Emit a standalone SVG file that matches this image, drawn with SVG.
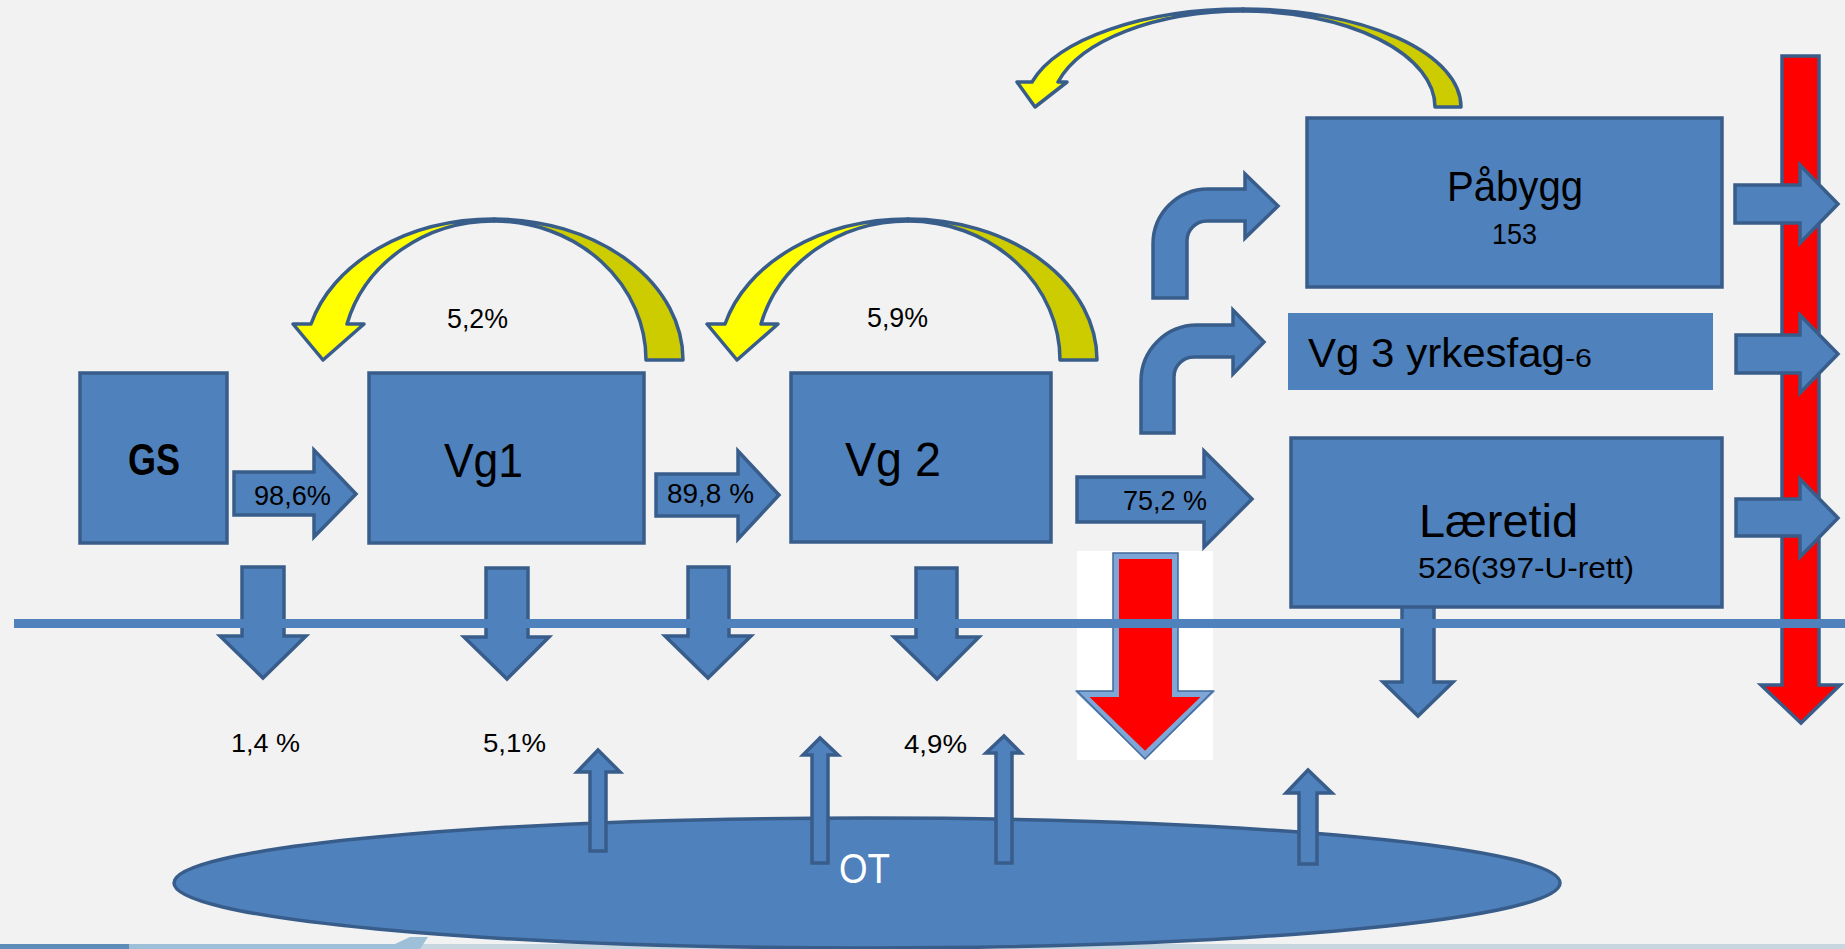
<svg xmlns="http://www.w3.org/2000/svg" width="1845" height="949" viewBox="0 0 1845 949">
<style>
.bx{fill:#4f81bd;stroke:#385d8a;stroke-width:3.5}
.ar{fill:#4f81bd;stroke:#385d8a;stroke-width:3.5;stroke-linejoin:miter}
.yl{fill:#ffff00;stroke:#385d8a;stroke-width:3.5;stroke-linejoin:round}
.ol{fill:#cccc00;stroke:#385d8a;stroke-width:3.5;stroke-linejoin:round}
.rd{fill:#ff0000;stroke:#385d8a;stroke-width:3.5}
.t{font-family:"Liberation Sans",Arial,sans-serif;fill:#000}
</style>
<rect width="1845" height="949" fill="#f2f2f2"/>
<g id="bottom-strip">
<rect x="0" y="944" width="1845" height="5" fill="#c8d6e0"/>
<rect x="0" y="944" width="129" height="5" fill="#5d8db8"/>
<polygon points="129,944 395,944 410,937 428,937 420,949 129,949" fill="#9dbfd8"/>
</g>
<g id="OT">
<ellipse cx="867" cy="883" rx="693" ry="65" class="bx"/>
</g>
<g id="connectors">
<path class="ar" d="M590,851 V772 H577 L598,750 L620,772 H606 V851 Z"/>
<path class="ar" d="M812,863 V755 H803 L820,738 L838,755 H828 V863 Z"/>
<path class="ar" d="M996,863 V753 H986 L1004,736 L1021,753 H1012 V863 Z"/>
<path class="ar" d="M1299,864 V793 H1286 L1308,770 L1332,793 H1317 V864 Z"/>
<path class="ar" d="M234,472 H314 V450 L356,494 L314,537 V515 H234 Z"/>
<path class="ar" d="M656,474 H738 V451 L779,495 L738,539 V516 H656 Z"/>
<path class="ar" d="M1077,477 H1204 V451 L1252,499 L1204,547 V522 H1077 Z"/>
<path class="ar" d="M1153,298 V244 A55 55 0 0 1 1208,189 H1245 V174 L1278,206 L1245,238 V221 H1207 A20 20 0 0 0 1187,241 V298 Z"/>
<path class="ar" d="M1141,433 V381 A56 56 0 0 1 1197,325 H1233 V310 L1264,342 L1233,374 V357 H1194 A20 20 0 0 0 1174,377 V433 Z"/>
<path class="ar" d="M242,567 H284 V636 H306 L263,678 L220,636 H242 Z"/>
<path class="ar" d="M486,568 H528 V637 H549 L507,679 L464,637 H486 Z"/>
<path class="ar" d="M688,567 H729 V636 H751 L708,678 L665,636 H688 Z"/>
<path class="ar" d="M916,568 H957 V637 H979 L937,679 L894,637 H916 Z"/>
<path class="ar" d="M1402,605 H1434 V682 H1453 L1418,716 L1383,682 H1402 Z"/>
<g id="arc1">
<path class="ol" d="M494,219 A189 141 0 0 1 683,360 L646,360 A152 139 0 0 0 494,221 Z"/>
<path class="yl" d="M293,324 L311,324 A189 141 0 0 1 494,219 L494,221 A152 139 0 0 0 347,324 L364,324 L323,360 Z"/>
</g>
<g id="arc2" transform="translate(414,0)">
<path class="ol" d="M494,219 A189 141 0 0 1 683,360 L646,360 A152 139 0 0 0 494,221 Z"/>
<path class="yl" d="M293,324 L311,324 A189 141 0 0 1 494,219 L494,221 A152 139 0 0 0 347,324 L364,324 L323,360 Z"/>
</g>
<g id="arc3">
<path class="ol" d="M1243,9 A218 98 0 0 1 1461,107 L1435,107 A192 96 0 0 0 1243,11 Z"/>
<path class="yl" d="M1017,82 L1032,82 A218 98 0 0 1 1243,9 L1243,11 A192 96 0 0 0 1058,82 L1067,82 L1035,107 Z"/>
</g>
<path class="rd" d="M1782,56 H1819 V685 H1840 L1801,723 L1761,685 H1782 Z"/>
<path class="ar" d="M1735,185 H1800 V165 L1838,204 L1800,243 V223 H1735 Z"/>
<path class="ar" d="M1736,335 H1800 V315 L1838,354 L1800,393 V373 H1736 Z"/>
<path class="ar" d="M1736,499 H1800 V479 L1838,518 L1800,557 V536 H1736 Z"/>
<g id="dropout">
<rect x="1077" y="551" width="136" height="209" fill="#ffffff"/>
<polygon points="1116,556 1175,556 1175,694 1208,694 1145,755 1082,694 1116,694" fill="#ff0000" stroke="#7ea7d8" stroke-width="6" stroke-linejoin="miter"/>
<polygon points="1113,553 1178,553 1178,691 1213,691 1145,759 1077,691 1113,691" fill="none" stroke="#41699b" stroke-width="1.5"/>
</g>
<rect x="14" y="619" width="1831" height="9" fill="#4f81bd"/>
</g>
<g id="GS"><rect class="bx" x="80" y="373" width="147" height="170"/>
<text class="t" x="128" y="475" font-size="44" font-weight="bold" textLength="52" lengthAdjust="spacingAndGlyphs">GS</text></g>
<g id="Vg1"><rect class="bx" x="369" y="373" width="275" height="170"/>
<text class="t" x="444" y="477" font-size="49" textLength="79" lengthAdjust="spacingAndGlyphs">Vg1</text></g>
<g id="Vg2"><rect class="bx" x="791" y="373" width="260" height="169"/>
<text class="t" x="845" y="476" font-size="48" textLength="96" lengthAdjust="spacingAndGlyphs">Vg 2</text></g>
<g id="Pabygg"><rect class="bx" x="1307" y="118" width="415" height="169"/>
<text class="t" x="1447" y="201" font-size="42" textLength="136" lengthAdjust="spacingAndGlyphs">Påbygg</text>
<text class="t" x="1492" y="244" font-size="29" textLength="45" lengthAdjust="spacingAndGlyphs">153</text></g>
<g id="Vg3"><rect x="1288" y="313" width="425" height="77" fill="#4f81bd"/>
<text class="t" x="1308" y="367" font-size="40" textLength="257" lengthAdjust="spacingAndGlyphs">Vg 3 yrkesfag</text>
<text class="t" x="1565" y="367" font-size="26" textLength="27" lengthAdjust="spacingAndGlyphs">-6</text></g>
<g id="Laeretid"><rect class="bx" x="1291" y="438" width="431" height="169"/>
<text class="t" x="1419" y="537" font-size="47" textLength="159" lengthAdjust="spacingAndGlyphs">Læretid</text>
<text class="t" x="1418" y="578" font-size="30" textLength="216" lengthAdjust="spacingAndGlyphs">526(397-U-rett)</text></g>
<g id="labels">
<text class="t" x="254" y="505" font-size="28" textLength="77" lengthAdjust="spacingAndGlyphs">98,6%</text>
<text class="t" x="667" y="503" font-size="28" textLength="87" lengthAdjust="spacingAndGlyphs">89,8 %</text>
<text class="t" x="1123" y="510" font-size="28" textLength="84" lengthAdjust="spacingAndGlyphs">75,2 %</text>
<text class="t" x="447" y="328" font-size="28" textLength="61" lengthAdjust="spacingAndGlyphs">5,2%</text>
<text class="t" x="867" y="327" font-size="28" textLength="61" lengthAdjust="spacingAndGlyphs">5,9%</text>
<text class="t" x="231" y="752" font-size="26" textLength="69" lengthAdjust="spacingAndGlyphs">1,4 %</text>
<text class="t" x="483" y="752" font-size="26" textLength="63" lengthAdjust="spacingAndGlyphs">5,1%</text>
<text class="t" x="904" y="753" font-size="26" textLength="63" lengthAdjust="spacingAndGlyphs">4,9%</text>
<text x="839" y="883" font-size="42" font-family="Liberation Sans,Arial,sans-serif" fill="#ffffff" textLength="51" lengthAdjust="spacingAndGlyphs">OT</text>
</g>
</svg>
